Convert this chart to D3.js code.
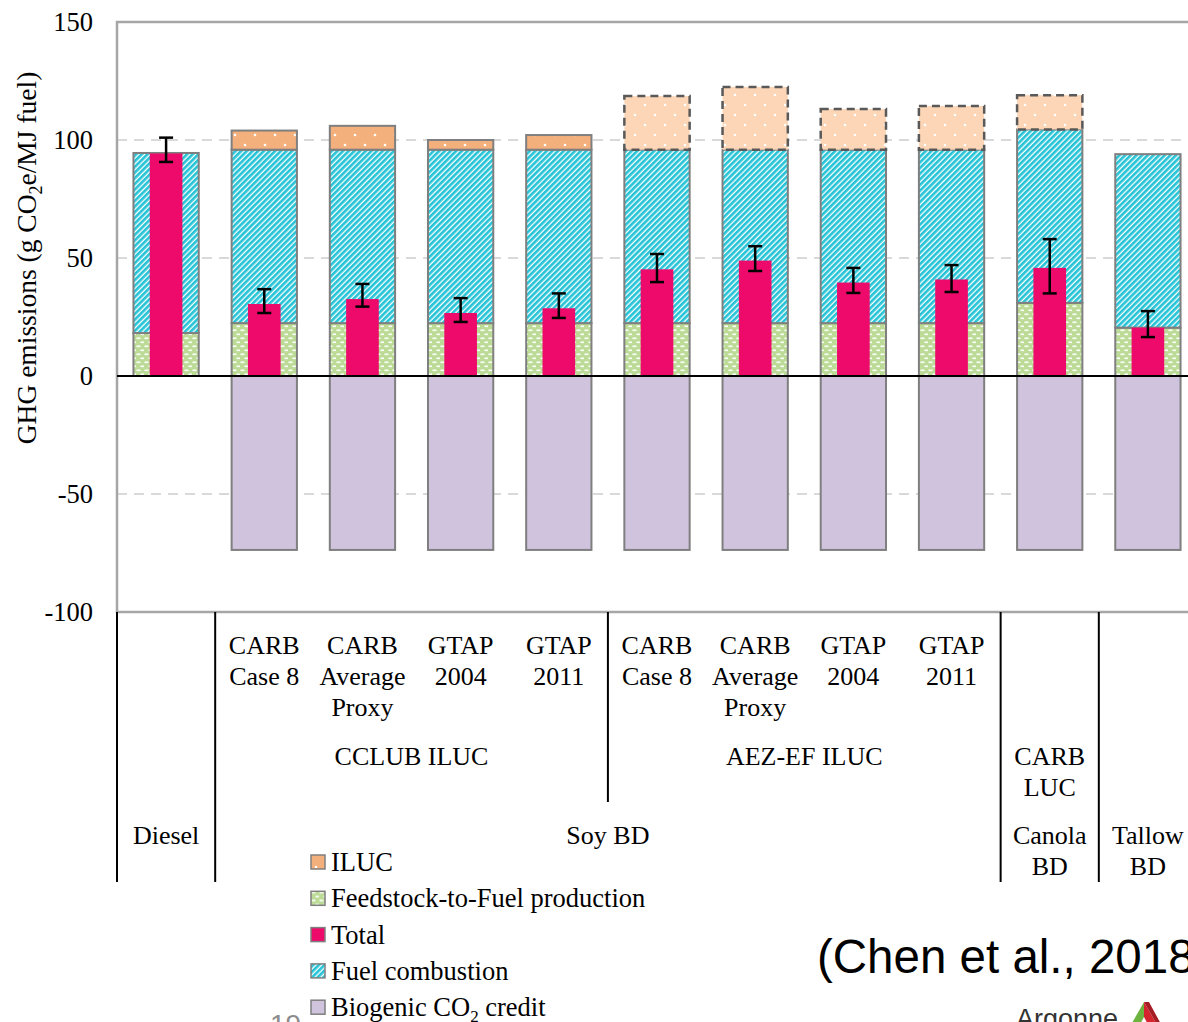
<!DOCTYPE html>
<html lang="en">
<head>
<meta charset="utf-8">
<title>GHG emissions</title>
<script src="https://cdn.jsdelivr.net/npm/d3@7"></script>
<style>
  body { margin: 0; background: #fff; }
  svg { display: block; }
  .grid { stroke: #d9d9d9; stroke-width: 2; stroke-dasharray: 10 7; }
  .seg { stroke: #7f7f7f; stroke-width: 2; }
  .err { stroke: #000; stroke-width: 2.5; }
  .sep { stroke: #000; stroke-width: 2; }
</style>
</head>
<body>
<div id="chart"></div>
<script>
// bars, left to right
var categories = ["Diesel", "CCLUB Case 8", "CCLUB Avg Proxy", "CCLUB GTAP 2004", "CCLUB GTAP 2011",
  "AEZ Case 8", "AEZ Avg Proxy", "AEZ GTAP 2004", "AEZ GTAP 2011", "Canola", "Tallow"];

// stacked components (g CO2e/MJ)
var feedstock  = [18.2, 22.4, 22.4, 22.4, 22.4, 22.4, 22.4, 22.4, 22.4, 31.0, 20.5];
var combustion = [76.3, 73.5, 73.5, 73.5, 73.5, 73.5, 73.5, 73.5, 73.5, 73.5, 73.5];
var iluc       = [0, 8.1, 10.1, 4.1, 6.2, 22.7, 26.6, 17.2, 18.5, 14.5, 0];
var ilucModel  = ["", "CCLUB", "CCLUB", "CCLUB", "CCLUB", "AEZ-EF", "AEZ-EF", "AEZ-EF", "AEZ-EF", "CARB", ""];
var credit     = [0, -73.7, -73.7, -73.7, -73.7, -73.7, -73.7, -73.7, -73.7, -73.7, -73.7];

// net total with error range
var total   = [94.3, 30.5, 32.6, 26.7, 28.7, 45.2, 48.9, 39.6, 40.9, 45.8, 20.5];
var errLow  = [90.7, 26.7, 29.4, 22.9, 24.6, 39.8, 44.5, 35.2, 35.6, 35.0, 16.5];
var errHigh = [101.0, 36.8, 39.0, 33.0, 35.0, 51.7, 55.0, 45.8, 47.0, 58.0, 27.5];

var yTicks = [-100, -50, 0, 50, 100, 150];

// category axis labels (three levels)
var caseLabels = [[], ["CARB", "Case 8"], ["CARB", "Average", "Proxy"], ["GTAP", "2004"], ["GTAP", "2011"],
  ["CARB", "Case 8"], ["CARB", "Average", "Proxy"], ["GTAP", "2004"], ["GTAP", "2011"], [], []];
var methodGroups = [
  { lines: ["CCLUB ILUC"], from: 1, to: 4 },
  { lines: ["AEZ-EF ILUC"], from: 5, to: 8 },
  { lines: ["CARB", "LUC"], from: 9, to: 9 }
];
var fuelGroups = [
  { lines: ["Diesel"], from: 0, to: 0 },
  { lines: ["Soy BD"], from: 1, to: 8 },
  { lines: ["Canola", "BD"], from: 9, to: 9 },
  { lines: ["Tallow", "BD"], from: 10, to: 10 }
];

var legendItems = ["ILUC", "Feedstock-to-Fuel production", "Total", "Fuel combustion", "Biogenic CO2 credit"];

var width = 1188, height = 1022;
var plotLeft = 117, plotRight = 1197, plotTop = 22, plotBottom = 612;
var serif = "'Liberation Serif', 'Times New Roman', serif";
var sans = "'Liberation Sans', Arial, sans-serif";

var svg = d3.select("#chart").append("svg")
    .attr("width", width)
    .attr("height", height);

// patterns
var defs = svg.append("defs");

var pStripe = defs.append("pattern").attr("id", "stripes")
    .attr("patternUnits", "userSpaceOnUse").attr("width", 4).attr("height", 4)
    .attr("patternTransform", "rotate(45)");
pStripe.append("rect").attr("width", 4).attr("height", 4).attr("fill", "#fff");
pStripe.append("rect").attr("width", 2.7).attr("height", 4).attr("fill", "#26c3d6");

var pDash = defs.append("pattern").attr("id", "dashes")
    .attr("patternUnits", "userSpaceOnUse").attr("width", 8).attr("height", 8);
pDash.append("rect").attr("width", 8).attr("height", 8).attr("fill", "#bcdb96");
pDash.append("rect").attr("x", 0.5).attr("y", 1.5).attr("width", 4).attr("height", 1.6).attr("fill", "#fff");
pDash.append("rect").attr("x", 4.5).attr("y", 5.5).attr("width", 4).attr("height", 1.6).attr("fill", "#fff");

function dots(id, bg) {
  var p = defs.append("pattern").attr("id", id)
      .attr("patternUnits", "userSpaceOnUse").attr("width", 20).attr("height", 20);
  p.append("rect").attr("width", 20).attr("height", 20).attr("fill", bg);
  p.append("circle").attr("cx", 5).attr("cy", 5).attr("r", 1.3).attr("fill", "#fff");
  p.append("circle").attr("cx", 15).attr("cy", 15).attr("r", 1.3).attr("fill", "#fff");
}
dots("iluc-solid", "#f4b07c");
dots("iluc-light", "#fcd6b6");

// scales
var x = d3.scaleBand()
    .domain(categories)
    .range([plotLeft, plotRight])
    .paddingInner(0.335)
    .paddingOuter(0.1675);
var step = x.step();

var y = d3.scaleLinear()
    .domain([-100, 150])
    .range([plotBottom, plotTop]);

// gridlines
svg.append("g").selectAll("line")
    .data(yTicks.filter(function(d) { return d != 0 && d != -100 && d != 150; }))
  .enter().append("line")
    .attr("class", "grid")
    .attr("x1", plotLeft).attr("x2", plotRight)
    .attr("y1", function(d) { return y(d); })
    .attr("y2", function(d) { return y(d); });

// plot border
svg.append("rect")
    .attr("x", plotLeft).attr("y", plotTop)
    .attr("width", plotRight - plotLeft).attr("height", plotBottom - plotTop)
    .attr("fill", "none").attr("stroke", "#a6a6a6").attr("stroke-width", 2.5);

// stacked bars
var bars = svg.append("g");
categories.forEach(function(c, i) {
  var x0 = x(c), w = x.bandwidth();
  var fTop = feedstock[i], cTop = feedstock[i] + combustion[i], iTop = cTop + iluc[i];

  if (credit[i] < 0) {
    bars.append("rect").attr("class", "seg")
        .attr("x", x0).attr("width", w)
        .attr("y", y(0)).attr("height", y(credit[i]) - y(0))
        .attr("fill", "#cfc3dd");
  }
  bars.append("rect").attr("class", "seg")
      .attr("x", x0).attr("width", w)
      .attr("y", y(fTop)).attr("height", y(0) - y(fTop))
      .attr("fill", "url(#dashes)");
  bars.append("rect").attr("class", "seg")
      .attr("x", x0).attr("width", w)
      .attr("y", y(cTop)).attr("height", y(fTop) - y(cTop))
      .attr("fill", "url(#stripes)");
  if (iluc[i] > 0) {
    var solid = ilucModel[i] == "CCLUB";
    bars.append("rect")
        .attr("x", x0).attr("width", w)
        .attr("y", y(iTop)).attr("height", y(cTop) - y(iTop))
        .attr("fill", solid ? "url(#iluc-solid)" : "url(#iluc-light)")
        .attr("stroke", solid ? "#7f7f7f" : "#595959")
        .attr("stroke-width", solid ? 2 : 2.5)
        .attr("stroke-dasharray", solid ? null : "8 5");
  }
});

// total bars and error bars
var tw = x.bandwidth() / 2;
svg.append("g").selectAll("rect")
    .data(categories)
  .enter().append("rect")
    .attr("x", function(d) { return x(d) + x.bandwidth() / 2 - tw / 2; })
    .attr("width", tw)
    .attr("y", function(d, i) { return y(total[i]); })
    .attr("height", function(d, i) { return y(0) - y(total[i]); })
    .attr("fill", "#ee0a6b");

var err = svg.append("g");
categories.forEach(function(c, i) {
  var cx = x(c) + x.bandwidth() / 2;
  err.append("line").attr("class", "err")
      .attr("x1", cx).attr("x2", cx).attr("y1", y(errHigh[i])).attr("y2", y(errLow[i]));
  [errHigh[i], errLow[i]].forEach(function(v) {
    err.append("line").attr("class", "err")
        .attr("x1", cx - 7).attr("x2", cx + 7).attr("y1", y(v)).attr("y2", y(v));
  });
});

// zero line
svg.append("line")
    .attr("x1", plotLeft).attr("x2", plotRight)
    .attr("y1", y(0)).attr("y2", y(0))
    .attr("stroke", "#000").attr("stroke-width", 2);

// y axis labels
var yAxis = svg.append("g")
    .attr("transform", "translate(" + plotLeft + ",0)")
    .call(d3.axisLeft(y).tickValues(yTicks).tickSize(0).tickPadding(24)
      .tickFormat(function(d) { return String(d); }));
yAxis.select(".domain").remove();
yAxis.attr("font-family", serif).attr("font-size", 26);
yAxis.selectAll("text")
    .style("font-family", serif)
    .style("font-size", "26.5px")
    .attr("fill", "#000");

var yTitle = svg.append("text")
    .attr("transform", "translate(36,258) rotate(-90)")
    .attr("text-anchor", "middle")
    .style("font-family", serif)
    .style("font-size", "27.5px");
yTitle.append("tspan").text("GHG emissions (g CO");
yTitle.append("tspan").attr("dy", 6).style("font-size", "18px").text("2");
yTitle.append("tspan").attr("dy", -6).text("e/MJ fuel)");

// category axis
function bandEdge(i) { return plotLeft + i * step; }
var seps = [
  { at: 0, end: 882 }, { at: 1, end: 882 }, { at: 5, end: 802 },
  { at: 9, end: 882 }, { at: 10, end: 882 }
];
svg.append("g").selectAll("line")
    .data(seps)
  .enter().append("line")
    .attr("class", "sep")
    .attr("x1", function(d) { return bandEdge(d.at); })
    .attr("x2", function(d) { return bandEdge(d.at); })
    .attr("y1", plotBottom).attr("y2", function(d) { return d.end; });

function multiline(g, cx, top, lines) {
  var t = g.append("text")
      .attr("text-anchor", "middle")
      .style("font-family", serif)
      .style("font-size", "26px");
  lines.forEach(function(l, k) {
    t.append("tspan").attr("x", cx).attr("y", top + k * 31).text(l);
  });
}
var labels = svg.append("g");
categories.forEach(function(c, i) {
  multiline(labels, x(c) + x.bandwidth() / 2, 654, caseLabels[i]);
});
methodGroups.forEach(function(g) {
  multiline(labels, (bandEdge(g.from) + bandEdge(g.to + 1)) / 2, 765, g.lines);
});
fuelGroups.forEach(function(g) {
  multiline(labels, (bandEdge(g.from) + bandEdge(g.to + 1)) / 2, 844, g.lines);
});

// legend
var swatch = {
  "ILUC": "url(#iluc-solid)",
  "Feedstock-to-Fuel production": "url(#dashes)",
  "Total": "#ee0a6b",
  "Fuel combustion": "url(#stripes)",
  "Biogenic CO2 credit": "#cfc3dd"
};
var legend = svg.append("g").attr("transform", "translate(311,862)");
legendItems.forEach(function(d, i) {
  var g = legend.append("g").attr("transform", "translate(0," + (i * 36.3) + ")");
  g.append("rect")
      .attr("x", 0).attr("y", -7).attr("width", 14).attr("height", 14)
      .attr("fill", swatch[d]).attr("stroke", "#7f7f7f").attr("stroke-width", 1.5);
  var t = g.append("text")
      .attr("x", 20).attr("y", 9)
      .style("font-family", serif)
      .style("font-size", "26.5px");
  if (d == "Biogenic CO2 credit") {
    t.append("tspan").text("Biogenic CO");
    t.append("tspan").attr("dy", 6).style("font-size", "17px").text("2");
    t.append("tspan").attr("dy", -6).text(" credit");
  } else {
    t.text(d);
  }
});

// source note and slide footer (cut by the slide edge as in the original)
svg.append("text")
    .attr("x", 817).attr("y", 973)
    .style("font-family", sans)
    .style("font-size", "47.5px")
    .text("(Chen et al., 2018)");

svg.append("text")
    .attr("x", 270).attr("y", 1034)
    .style("font-family", sans)
    .style("font-size", "28px").attr("fill", "#8c8c8c")
    .text("19");

svg.append("text")
    .attr("x", 1016).attr("y", 1028)
    .style("font-family", sans)
    .style("font-size", "27px").attr("fill", "#333")
    .text("Argonne");
var logo = svg.append("g").attr("transform", "translate(1128,1002)");
logo.append("path").attr("d", "M16,0 L0,28 L9,28 L16,15 Z").attr("fill", "#6cb33f");
logo.append("path").attr("d", "M16,0 L32,28 L23,28 L16,15 Z").attr("fill", "#d6242f");
logo.append("path").attr("d", "M16,0 L21,0 L34,24 L32,28 Z").attr("fill", "#a51d24");
logo.append("path").attr("d", "M5,23 L27,23 L30,28 L2,28 Z").attr("fill", "#1f6fb5");
</script>
</body>
</html>
